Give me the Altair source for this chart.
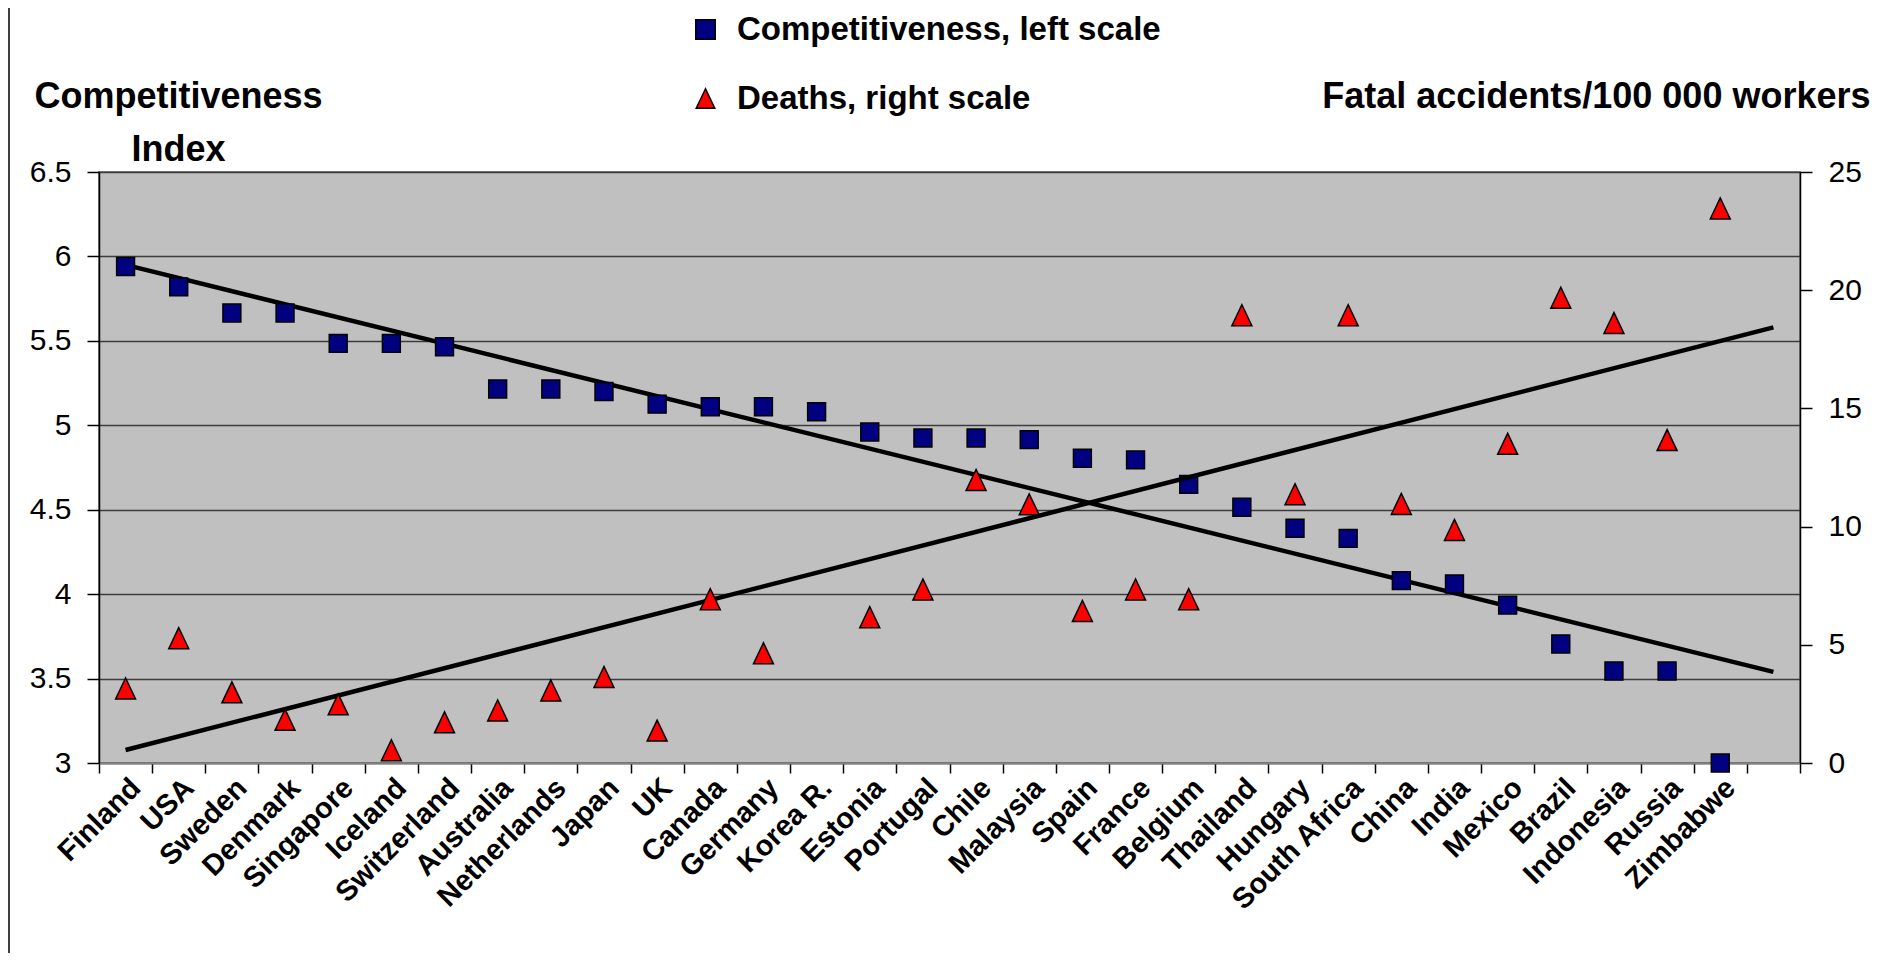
import altair as alt
import pandas as pd

countries = ["Finland", "USA", "Sweden", "Denmark", "Singapore", "Iceland", "Switzerland",
             "Australia", "Netherlands", "Japan", "UK", "Canada", "Germany", "Korea R.",
             "Estonia", "Portugal", "Chile", "Malaysia", "Spain", "France", "Belgium",
             "Thailand", "Hungary", "South Africa", "China", "India", "Mexico", "Brazil",
             "Indonesia", "Russia", "Zimbabwe"]
competitiveness = [5.94, 5.82, 5.665, 5.665, 5.485, 5.485, 5.465, 5.215, 5.215, 5.20,
                   5.125, 5.11, 5.11, 5.08, 4.96, 4.925, 4.925, 4.915, 4.805, 4.795,
                   4.65, 4.515, 4.39, 4.33, 4.08, 4.06, 3.935, 3.705, 3.545, 3.545, 3.0]
deaths = [3.15, 5.28, 2.99, 1.83, 2.48, 0.54, 1.72, 2.22, 3.07, 3.64,
          1.37, 6.93, 4.64, None, 6.17, 7.34, 11.97, 10.94, 6.43, 7.34,
          6.93, 18.94, 11.37, 18.94, 10.96, 9.86, 13.5, 19.68, 18.61, 13.66, 23.46]

extra_slot = " "
trend_ends = [countries[0], extra_slot]
comp_trend = [5.95, 3.54]
death_trend = [0.55, 18.43]

comp_ticks = [3.0, 3.5, 4.0, 4.5, 5.0, 5.5, 6.0, 6.5]
death_ticks = [0, 5, 10, 15, 20, 25]
series_names = ["Competitiveness, left scale", "Deaths, right scale"]
series_colors = ["#000080", "#FF0000"]
left_title = ["Competitiveness", "Index"]
right_title = "Fatal accidents/100 000 workers"

FONT = "Liberation Sans"
tri_path = "M0,-1L-0.95,1L0.95,1Z"

df = pd.DataFrame({"country": countries, "comp": competitiveness, "deaths": deaths})
trend = pd.DataFrame({"country": trend_ends, "comp": comp_trend, "deaths": death_trend})

domain = countries + [extra_slot]
xenc = alt.X(
    "country:N", sort=domain,
    scale=alt.Scale(type="band", domain=domain, paddingInner=0, paddingOuter=0),
    axis=alt.Axis(title=None, tickBand="extent", labelAngle=-45, labelAlign="right",
                  labelBaseline="top", labelFont=FONT, labelFontSize=29,
                  labelFontWeight="bold", labelColor="black", labelPadding=0,
                  tickSize=10, tickColor="black", tickWidth=1.5, domainColor="#808080",
                  domainWidth=2, grid=False, labelOverlap=False, labelLimit=500),
)

yleft = alt.Y(
    "comp:Q",
    scale=alt.Scale(domain=[3, 6.5], nice=False, zero=False),
    axis=alt.Axis(title=left_title, values=comp_ticks, labelExpr="'' + datum.value",
                  titleAngle=0, titleAlign="center", titleBaseline="alphabetic",
                  titleX=79, titleY=-65, titleFont=FONT, titleFontSize=36,
                  titleFontWeight="bold", titleColor="black", titleLineHeight=53,
                  labelFont=FONT, labelFontSize=30, labelColor="black", labelPadding=16,
                  tickSize=12, tickColor="black", tickWidth=1.5,
                  domainColor="black", domainWidth=1.5,
                  grid=True, gridColor="#3c3c3c", gridWidth=1.5),
)

yright = alt.Y(
    "deaths:Q",
    scale=alt.Scale(domain=[0, 25], nice=False, zero=True),
    axis=alt.Axis(title=right_title, orient="right", values=death_ticks,
                  titleAngle=0, titleAlign="right", titleBaseline="alphabetic",
                  titleX=70, titleY=-65, titleFont=FONT, titleFontSize=36,
                  titleFontWeight="bold", titleColor="black",
                  labelFont=FONT, labelFontSize=30, labelColor="black", labelPadding=16,
                  tickSize=12, tickColor="black", tickWidth=1.5,
                  domainColor="black", domainWidth=1.5, grid=False),
)

leg = alt.Legend(title=None, orient="none", legendX=590, legendY=-159,
                 labelFont=FONT, labelFontSize=33, labelFontWeight="bold",
                 labelColor="black", labelLimit=1000, rowPadding=35, labelOffset=15,
                 symbolSize=380, symbolStrokeColor="black", symbolStrokeWidth=1.5)

color_scale = alt.Scale(domain=series_names, range=series_colors)
shape_scale = alt.Scale(domain=series_names, range=["square", tri_path])

squares = alt.Chart(df).transform_calculate(
    series=f"'{series_names[0]}'"
).mark_point(filled=True, size=320, stroke="black", strokeWidth=1.5, opacity=1).encode(
    x=xenc, y=yleft,
    color=alt.Color("series:N", scale=color_scale, legend=leg),
    shape=alt.Shape("series:N", scale=shape_scale, legend=leg),
)
comp_line = alt.Chart(trend).mark_line(color="black", strokeWidth=4.5).encode(x=xenc, y=yleft)

triangles = alt.Chart(df).transform_calculate(
    series=f"'{series_names[1]}'"
).mark_point(filled=True, size=440, stroke="black", strokeWidth=1.5, opacity=1).encode(
    x=xenc, y=yright,
    color=alt.Color("series:N", scale=color_scale, legend=leg),
    shape=alt.Shape("series:N", scale=shape_scale, legend=leg),
)
death_line = alt.Chart(trend).mark_line(color="black", strokeWidth=4.5).encode(x=xenc, y=yright)

border = alt.Chart(pd.DataFrame({"a": [0]})).mark_rule(color="black", strokeWidth=1.5).encode(
    x=alt.value(-90), y=alt.value(-172), y2=alt.value(800)
)

left = alt.layer(comp_line, squares)
right = alt.layer(death_line, triangles)

chart = alt.layer(left, right, border).resolve_scale(y="independent").properties(
    width=1701, height=591,
    autosize=alt.AutoSizeParams(type="none"),
    padding={"left": 91, "top": 164, "right": 80, "bottom": 190},
    background="white",
).configure_view(fill="#C0C0C0", stroke="#808080", strokeWidth=2)

chart.save("out.html", embed_options={"renderer": "svg", "actions": False})
